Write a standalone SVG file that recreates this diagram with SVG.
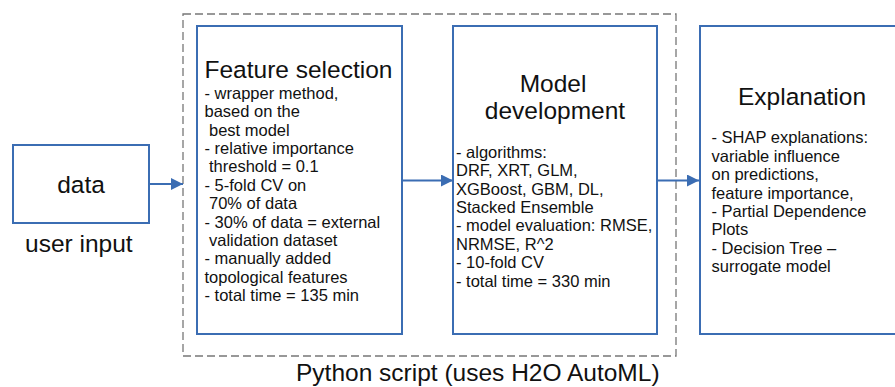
<svg xmlns="http://www.w3.org/2000/svg" width="895" height="387" viewBox="0 0 895 387">
<style>
.box{fill:#fff;stroke:#3b6db3;stroke-width:2}
.conn{stroke:#3b6db3;stroke-width:2;fill:none}
.t{font-family:"Liberation Sans",Arial,sans-serif;fill:#111}
.title{font-size:24.5px}
.body{font-size:16.5px}
.c{text-anchor:middle}
</style>
<defs>
<marker id="ah" viewBox="0 0 12 12" refX="12" refY="6" markerWidth="12" markerHeight="12" markerUnits="userSpaceOnUse" orient="auto">
<path d="M0,0 L12,6 L0,12 Z" fill="#3b6db3"/>
</marker>
</defs>
<rect width="895" height="387" fill="#fff"/>
<g id="python-script">
<rect x="183" y="14" width="493" height="342" fill="none" stroke="#777" stroke-width="1.3" stroke-dasharray="8,4"/>
<text class="t title" x="296" y="381">Python script (uses H2O AutoML)</text>
</g>
<g id="connectors">
<line class="conn" x1="149" y1="184" x2="183" y2="184" marker-end="url(#ah)"/>
<line class="conn" x1="402" y1="180.5" x2="453" y2="180.5" marker-end="url(#ah)"/>
<line class="conn" x1="657" y1="180.5" x2="699" y2="180.5" marker-end="url(#ah)"/>
</g>
<g id="data">
<rect class="box" x="13" y="145" width="136" height="78"/>
<text class="t title c" x="81" y="193">data</text>
<text class="t title" x="25" y="252">user input</text>
</g>
<g id="feature-selection">
<rect class="box" x="197" y="26" width="205" height="308"/>
<text class="t title" x="204.5" y="78">Feature selection</text>
<text class="t body">
<tspan x="204.5" y="98.7">- wrapper method,</tspan>
<tspan x="204.5" y="117.1">based on the</tspan>
<tspan x="209" y="135.5">best model</tspan>
<tspan x="204.5" y="153.9">- relative importance</tspan>
<tspan x="209" y="172.3">threshold = 0.1</tspan>
<tspan x="204.5" y="190.7">- 5-fold CV on</tspan>
<tspan x="209" y="209.1">70% of data</tspan>
<tspan x="204.5" y="227.5">- 30% of data = external</tspan>
<tspan x="209" y="245.9">validation dataset</tspan>
<tspan x="204.5" y="264.3">- manually added</tspan>
<tspan x="204.5" y="282.7">topological features</tspan>
<tspan x="204.5" y="301.1">- total time = 135 min</tspan>
</text>
</g>
<g id="model-development">
<rect class="box" x="453" y="26" width="204" height="308"/>
<text class="t title c" x="553" y="92">Model</text>
<text class="t title c" x="555" y="119">development</text>
<text class="t body">
<tspan x="456" y="157.7">- algorithms:</tspan>
<tspan x="456" y="176.1">DRF, XRT, GLM,</tspan>
<tspan x="456" y="194.5">XGBoost, GBM, DL,</tspan>
<tspan x="456" y="212.9">Stacked Ensemble</tspan>
<tspan x="456" y="231.3">- model evaluation: RMSE,</tspan>
<tspan x="456" y="249.7">NRMSE, R^2</tspan>
<tspan x="456" y="268.1">- 10-fold CV</tspan>
<tspan x="456" y="286.5">- total time = 330 min</tspan>
</text>
</g>
<g id="explanation">
<rect class="box" x="700" y="26" width="210" height="308"/>
<text class="t title c" x="802" y="105">Explanation</text>
<text class="t body">
<tspan x="711.5" y="143.3">- SHAP explanations:</tspan>
<tspan x="711.5" y="161.7">variable influence</tspan>
<tspan x="711.5" y="180.1">on predictions,</tspan>
<tspan x="711.5" y="198.5">feature importance,</tspan>
<tspan x="711.5" y="216.9">- Partial Dependence</tspan>
<tspan x="711.5" y="235.3">Plots</tspan>
<tspan x="711.5" y="253.7">- Decision Tree –</tspan>
<tspan x="711.5" y="272.1">surrogate model</tspan>
</text>
</g>
</svg>
